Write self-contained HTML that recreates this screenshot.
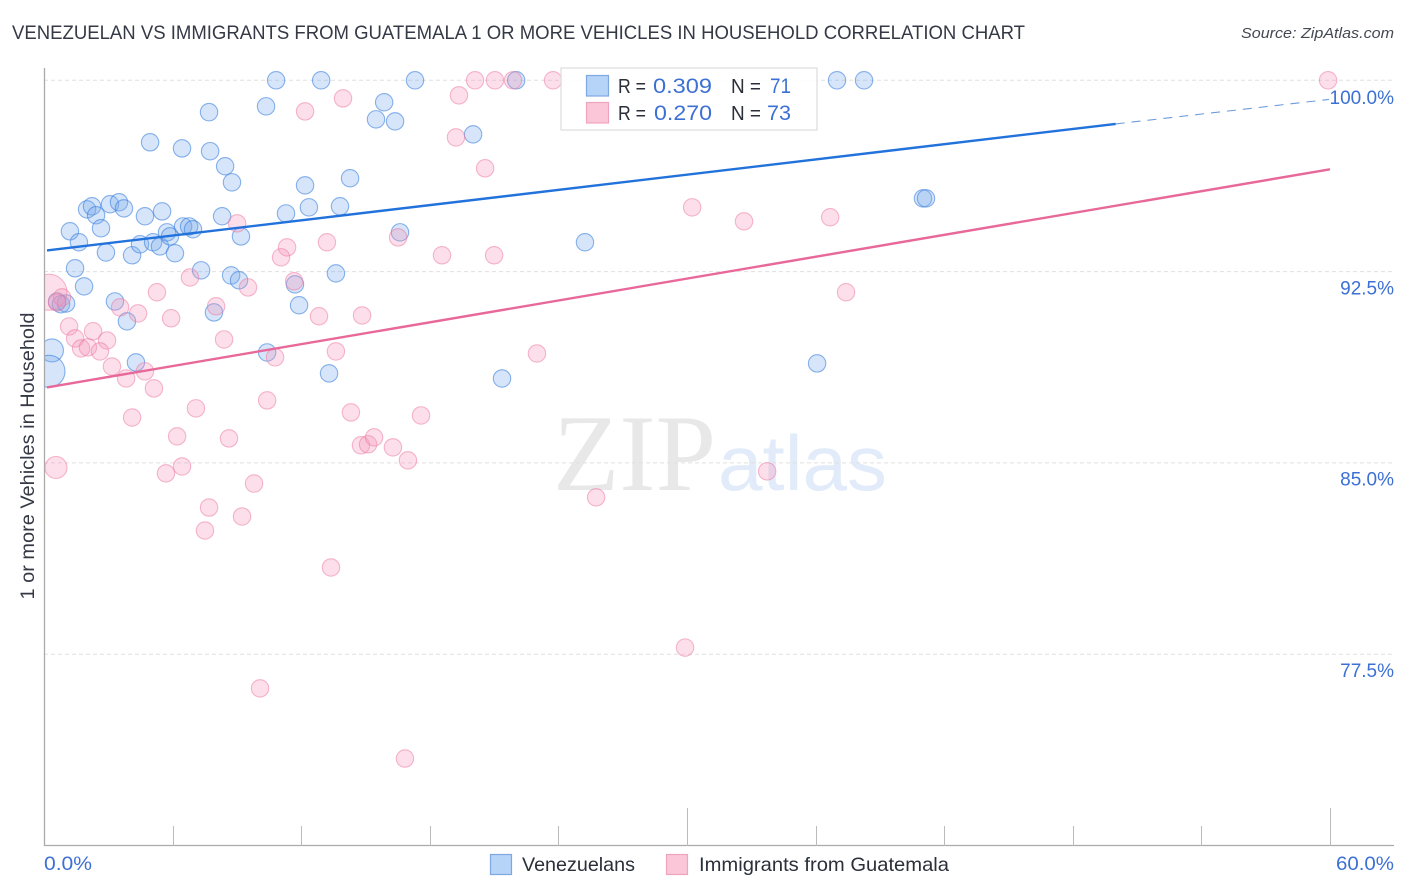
<!DOCTYPE html>
<html lang="en">
<head>
<meta charset="utf-8">
<title>Venezuelan vs Immigrants from Guatemala Correlation Chart</title>
<style>
html,body{margin:0;padding:0;background:#fff;}
svg{display:block;font-family:"Liberation Sans",sans-serif;}
</style>
</head>
<body>
<svg id="chart" xmlns="http://www.w3.org/2000/svg" width="1406" height="892" viewBox="0 0 1406 892">
  <text x="553" y="490" font-family="'Liberation Serif',serif" font-size="109" fill="#e8e8e8" textLength="163" lengthAdjust="spacingAndGlyphs">ZIP</text>
  <text x="718" y="490" font-size="78" fill="#e2ebf9" textLength="169" lengthAdjust="spacingAndGlyphs">atlas</text>
  <g id="grid"></g>
  <g id="points"></g>
  <rect x="0" y="60" width="44" height="800" fill="#fff"/>
  <g id="axes"></g>
  <g id="lines"></g>
  <g id="ylabels"></g>
  <text x="12" y="39" font-size="19" fill="#343945" textLength="1013" lengthAdjust="spacingAndGlyphs">VENEZUELAN VS IMMIGRANTS FROM GUATEMALA 1 OR MORE VEHICLES IN HOUSEHOLD CORRELATION CHART</text>
  <text x="1394" y="38" font-size="15" font-style="italic" fill="#444952" text-anchor="end" textLength="153" lengthAdjust="spacingAndGlyphs">Source: ZipAtlas.com</text>
  <text transform="translate(34,456) rotate(-90)" font-size="19" fill="#343945" text-anchor="middle" textLength="287" lengthAdjust="spacingAndGlyphs">1 or more Vehicles in Household</text>
  <text x="44" y="870" font-size="19" fill="#3c70d4" textLength="48" lengthAdjust="spacingAndGlyphs">0.0%</text>
  <text x="1394" y="870" font-size="19" fill="#3c70d4" text-anchor="end" textLength="58" lengthAdjust="spacingAndGlyphs">60.0%</text>

  <g>
    <rect x="561" y="68" width="256" height="62" fill="#fff" fill-opacity="0.85" stroke="#dcdcdc" stroke-width="1.2"/>
    <rect x="586.5" y="75.5" width="22" height="20.5" fill="#b6d3f8" stroke="#7ea8e0" stroke-width="1.2"/>
    <rect x="586.5" y="102.5" width="22" height="20.5" fill="#fac6d8" stroke="#f0a3bd" stroke-width="1.2"/>
    <text x="618" y="93" font-size="20" fill="#2a2f3a" textLength="28" lengthAdjust="spacingAndGlyphs">R =</text>
    <text x="653" y="93" font-size="21.5" fill="#3c70d4" textLength="59" lengthAdjust="spacingAndGlyphs">0.309</text>
    <text x="731" y="93" font-size="20" fill="#2a2f3a" textLength="30" lengthAdjust="spacingAndGlyphs">N =</text>
    <text x="770" y="93" font-size="21.5" fill="#3c70d4" textLength="21" lengthAdjust="spacingAndGlyphs">71</text>
    <text x="618" y="120" font-size="20" fill="#2a2f3a" textLength="28" lengthAdjust="spacingAndGlyphs">R =</text>
    <text x="654" y="120" font-size="21.5" fill="#3c70d4" textLength="58" lengthAdjust="spacingAndGlyphs">0.270</text>
    <text x="731" y="120" font-size="20" fill="#2a2f3a" textLength="30" lengthAdjust="spacingAndGlyphs">N =</text>
    <text x="767" y="120" font-size="21.5" fill="#3c70d4" textLength="24" lengthAdjust="spacingAndGlyphs">73</text>
  </g>

  <g>
    <rect x="490.5" y="854.5" width="21" height="20" fill="#b6d3f8" stroke="#7ea8e0" stroke-width="1.2"/>
    <text x="522" y="871" font-size="19.5" fill="#2a2f3a" textLength="113" lengthAdjust="spacingAndGlyphs">Venezuelans</text>
    <rect x="666.5" y="854.5" width="21" height="20" fill="#fac6d8" stroke="#f0a3bd" stroke-width="1.2"/>
    <text x="699" y="871" font-size="19.5" fill="#2a2f3a" textLength="250" lengthAdjust="spacingAndGlyphs">Immigrants from Guatemala</text>
  </g>
</svg>
<script>
const yTicks = [100, 92.5, 85, 77.5];
const yTickLabels = ["100.0%", "92.5%", "85.0%", "77.5%"];
const xTicks = [6, 12, 18, 24, 30, 36, 42, 48, 54, 60];
const xMajorTicks = [30, 60];

const venezuelanX = [10.83,12.93,17.31,22.03,37.00,38.26,10.36,7.70,15.87,15.49,16.38,20.02,4.95,6.44,7.75,8.45,8.77,14.28,12.18,2.01,2.24,2.43,3.08,3.50,3.73,4.71,5.51,8.31,11.29,12.36,13.81,41.01,41.15,1.21,1.63,2.66,2.89,4.11,4.48,5.09,5.41,5.74,5.88,6.11,6.49,6.77,6.95,9.19,16.61,25.24,1.45,1.87,7.33,8.73,9.10,11.71,13.62,3.31,0.61,0.79,1.03,3.87,7.93,11.90,4.29,10.41,13.30,21.37,36.07,0.37,0.23];
const venezuelanY = [100,100,100,100,100,100,98.98,98.75,99.14,98.47,98.39,97.88,97.57,97.33,97.22,96.63,96.00,96.16,95.88,94.94,95.06,94.71,95.14,95.22,94.98,94.67,94.86,94.67,94.78,95.02,95.06,95.37,95.37,94.08,93.65,94.20,93.25,93.14,93.57,93.65,93.49,94.04,93.88,93.22,94.27,94.27,94.16,93.88,94.04,93.65,92.63,91.92,92.55,92.35,92.16,92.00,92.43,91.33,91.33,91.22,91.25,90.55,90.90,91.18,88.94,89.33,88.51,88.31,88.90,89.41,88.59];
const venezuelanWeight = [1,1,1,1,1,1,1,1,1,1,1,1,1,1,1,1,1,1,1,1,1,1,1,1,1,1,1,1,1,1,1,1,1,1,1,1,1,1,1,1,1,1,1,1,1,1,1,1,1,1,1,1,1,1,1,1,1,1,1,1,1,1,1,1,1,1,1,1,1,1.75,3.4];

const guatemalaX = [12.18,13.95,9.01,11.34,11.06,13.20,6.81,5.27,9.52,11.67,8.03,3.55,4.39,5.93,0.23,0.84,0.61,1.17,2.29,2.94,1.45,1.73,2.05,2.61,3.17,3.83,4.71,5.13,4.11,6.21,7.09,8.63,6.44,5.69,9.80,7.70,9.24,7.51,8.40,12.83,10.78,13.62,10.41,14.32,19.36,20.11,21.04,21.88,23.75,19.22,20.58,30.24,32.66,36.68,16.52,18.57,21.00,37.42,59.91,14.84,23.00,17.59,14.79,15.12,15.40,16.28,16.98,25.76,33.74,13.39,29.91,10.08,16.84,0.56];
const guatemalaY = [98.78,99.29,94.39,93.45,93.06,93.65,92.27,91.69,91.88,92.12,91.14,91.10,90.86,90.67,91.69,91.49,91.29,90.35,90.16,89.80,89.88,89.49,89.53,89.37,88.78,88.31,88.59,87.92,86.78,86.04,87.14,85.96,84.86,84.59,84.19,83.25,82.90,82.35,89.84,90.75,89.14,89.37,87.45,86.98,99.41,100,100,100,100,97.76,96.55,95.02,94.47,94.63,93.84,93.14,93.14,91.69,100,90.78,89.29,86.86,85.69,85.73,86.00,85.61,85.10,83.65,84.67,80.90,77.76,76.16,73.41,84.82];
const guatemalaWeight = [1,1,1,1,1,1,1,1,1,1,1,1,1,1,4.3,1,1,1,1,1,1,1,1,1,1,1,1,1,1,1,1,1,1,1,1,1,1,1,1,1,1,1,1,1,1,1,1,1,1,1,1,1,1,1,1,1,1,1,1,1,1,1,1,1,1,1,1,1,1,1,1,1,1,1.6];

const venezuelanTrendX = [0.14, 50];
const venezuelanTrendY = [93.33, 98.29];
const venezuelanProjectionX = [50, 59.95];
const venezuelanProjectionY = [98.29, 99.25];
const guatemalaTrendX = [0.14, 60];
const guatemalaTrendY = [87.96, 96.51];

const NS = "http://www.w3.org/2000/svg";
const xScale = v => 44 + v * (1286 / 60);
const yScale = v => 80.3 + (100 - v) * (191.3 / 7.5);
const rScale = w => 8.7 * Math.sqrt(w);

function make(parent, tag, attrs) {
  const el = document.createElementNS(NS, tag);
  for (const k in attrs) el.setAttribute(k, attrs[k]);
  parent.appendChild(el);
  return el;
}

const grid = document.getElementById("grid");
const axes = document.getElementById("axes");
const ylabels = document.getElementById("ylabels");
const points = document.getElementById("points");
const lines = document.getElementById("lines");

yTicks.forEach((t, i) => {
  const g = make(grid, "line", {x1: 44, x2: 1394, y1: yScale(t), y2: yScale(t), stroke: "#e0e0e0", "stroke-width": 1, "stroke-dasharray": "4 3"});
  
  
  const lab = make(ylabels, "text", {x: 1394, y: yScale(t) + (i === 0 ? 23.5 : 22.8), "font-size": 19, fill: "#3c70d4", "text-anchor": "end"});
  lab.textContent = yTickLabels[i];
  
  
});

const yAxis = make(axes, "line", {x1: 44.5, x2: 44.5, y1: 68, y2: 846, stroke: "#aaa", "stroke-width": 1.3});


const xAxis = make(axes, "line", {x1: 44, x2: 1394, y1: 845.5, y2: 845.5, stroke: "#aaa", "stroke-width": 1.3});



xTicks.forEach(t => {
  const major = xMajorTicks.includes(t);
  const x = Math.round(xScale(t)) + 0.5;
  const tick = make(axes, "line", {x1: x, x2: x, y1: major ? 808 : 826, y2: 846, stroke: "#bbb", "stroke-width": 1});
  
  
});

function drawSeries(name, xs, ys, ws, fill, stroke) {
  xs.forEach((v, i) => {
    const c = make(points, "circle", {cx: xScale(v), cy: yScale(ys[i]), r: rScale(ws[i]), fill: fill, stroke: stroke, "stroke-width": 1.1});
    
    
  });
}
drawSeries("venezuelan-point", venezuelanX, venezuelanY, venezuelanWeight, "rgba(120,170,235,0.3)", "rgba(55,125,220,0.58)");
drawSeries("guatemala-point", guatemalaX, guatemalaY, guatemalaWeight, "rgba(245,150,185,0.3)", "rgba(235,120,160,0.52)");

const blueTrend = make(lines, "line", {x1: xScale(venezuelanTrendX[0]), y1: yScale(venezuelanTrendY[0]), x2: xScale(venezuelanTrendX[1]), y2: yScale(venezuelanTrendY[1]), stroke: "#2272dc", "stroke-width": 2.4});


const blueProj = make(lines, "line", {x1: xScale(venezuelanProjectionX[0]), y1: yScale(venezuelanProjectionY[0]), x2: xScale(venezuelanProjectionX[1]), y2: yScale(venezuelanProjectionY[1]), stroke: "#6d9bdc", "stroke-width": 1.1, "stroke-dasharray": "9 7"});


const pinkTrend = make(lines, "line", {x1: xScale(guatemalaTrendX[0]), y1: yScale(guatemalaTrendY[0]), x2: xScale(guatemalaTrendX[1]), y2: yScale(guatemalaTrendY[1]), stroke: "#e8689a", "stroke-width": 2.4});


</script>
</body>
</html>
